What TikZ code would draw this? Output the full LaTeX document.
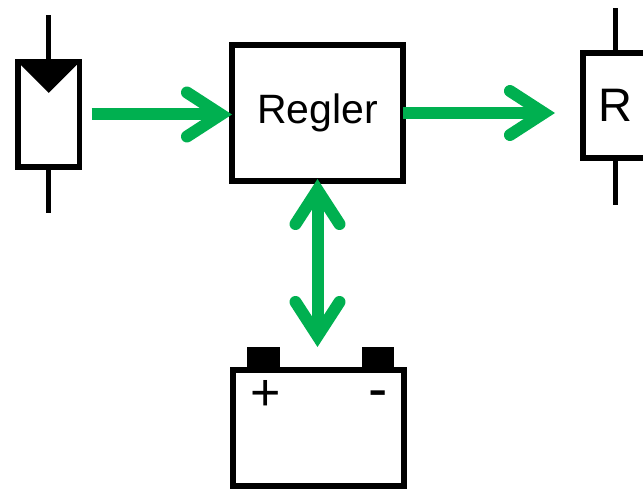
\documentclass[tikz,border=0pt]{standalone}
\usepackage{fontspec}
\setmainfont{Liberation Sans}
\usetikzlibrary{arrows.meta}
\definecolor{pvgreen}{RGB}{0,176,80}
\begin{document}
\begin{tikzpicture}[x=1pt,y=-1pt,
  blk/.style={draw=black, line width=5.5pt, fill=white, inner sep=0pt, outer sep=0pt, line join=miter},
  lead/.style={draw=black, line width=5pt},
  term/.style={fill=black, inner sep=0pt, outer sep=0pt, minimum width=33pt, minimum height=23pt, anchor=south},
  barb/.tip={Straight Barb[length=34pt,width=44pt,line cap=round,line join=miter]},
  garrow/.style={draw=pvgreen, line width=12pt, -barb},
  gdarrow/.style={draw=pvgreen, line width=12pt, barb-barb},
  sign/.style={inner sep=0pt, text=black}
]
\useasboundingbox (0,0) rectangle (643,492);

% solar module
\node[blk, minimum width=61.5pt, minimum height=105pt] (pv) at (48.75,114.5) {};
\fill[black] (pv.north west) -- (pv.north east) -- ([yshift=-31pt]pv.north) -- cycle;
\draw[lead] (pv.north) -- ++(0,-47);
\draw[lead] (pv.south) -- ++(0,46);

% controller
\node[blk, minimum width=171pt, minimum height=136pt, font=\fontsize{41}{41}\selectfont] (regler) at (317.5,113) {Regler};

% load
\node[blk, minimum width=64pt, minimum height=105pt, font=\fontsize{47}{47}\selectfont] (load) at (615,105.5) {R};
\draw[lead] (load.north) -- ++(0,-45);
\draw[lead] (load.south) -- ++(0,47);

% battery
\node[term] (tplus) at (263.5,370) {};
\node[term, minimum width=32pt] (tminus) at (378,370) {};
\node[blk, minimum width=171pt, minimum height=116pt] (bat) at (318.5,428) {};
\node[sign, font=\fontsize{52}{52}\selectfont] (plus) at (265.5,395.5) {+};
\node[sign, font=\fontsize{58}{58}\selectfont] (minus) at (378.5,400) {-};

% connectors
\draw[garrow, shorten <=12pt] (pv.east) -- (pv.east -| regler.west);
\draw[garrow, shorten >=-2pt] (regler.east) -- ([xshift=-30pt]regler.east -| load.west);
\draw[gdarrow, shorten <=-2pt] (regler.south) -- (regler.south |- tplus.north);
\end{tikzpicture}
\end{document}
